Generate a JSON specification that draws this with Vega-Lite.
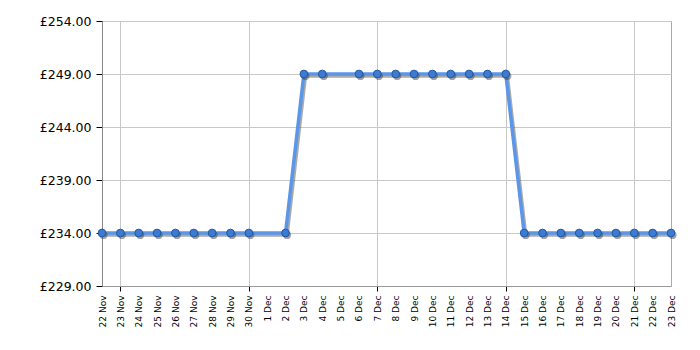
{
  "$schema": "https://vega.github.io/schema/vega-lite/v6.json",
  "width": 569,
  "height": 265,
  "autosize": {"type": "none"},
  "padding": {"left": 102, "top": 21, "right": 29, "bottom": 64},
  "background": "white",
  "data": {
    "values": [
      {"date": "2025-11-22T00:00:00", "price": 234},
      {"date": "2025-11-23T00:00:00", "price": 234},
      {"date": "2025-11-24T00:00:00", "price": 234},
      {"date": "2025-11-25T00:00:00", "price": 234},
      {"date": "2025-11-26T00:00:00", "price": 234},
      {"date": "2025-11-27T00:00:00", "price": 234},
      {"date": "2025-11-28T00:00:00", "price": 234},
      {"date": "2025-11-29T00:00:00", "price": 234},
      {"date": "2025-11-30T00:00:00", "price": 234},
      {"date": "2025-12-02T00:00:00", "price": 234},
      {"date": "2025-12-03T00:00:00", "price": 249},
      {"date": "2025-12-04T00:00:00", "price": 249},
      {"date": "2025-12-06T00:00:00", "price": 249},
      {"date": "2025-12-07T00:00:00", "price": 249},
      {"date": "2025-12-08T00:00:00", "price": 249},
      {"date": "2025-12-09T00:00:00", "price": 249},
      {"date": "2025-12-10T00:00:00", "price": 249},
      {"date": "2025-12-11T00:00:00", "price": 249},
      {"date": "2025-12-12T00:00:00", "price": 249},
      {"date": "2025-12-13T00:00:00", "price": 249},
      {"date": "2025-12-14T00:00:00", "price": 249},
      {"date": "2025-12-15T00:00:00", "price": 234},
      {"date": "2025-12-16T00:00:00", "price": 234},
      {"date": "2025-12-17T00:00:00", "price": 234},
      {"date": "2025-12-18T00:00:00", "price": 234},
      {"date": "2025-12-19T00:00:00", "price": 234},
      {"date": "2025-12-20T00:00:00", "price": 234},
      {"date": "2025-12-21T00:00:00", "price": 234},
      {"date": "2025-12-22T00:00:00", "price": 234},
      {"date": "2025-12-23T00:00:00", "price": 234}
    ]
  },
  "encoding": {
    "x": {
      "field": "date",
      "type": "temporal",
      "scale": {
        "domain": [
          {"year": 2025, "month": "nov", "date": 22},
          {"year": 2025, "month": "dec", "date": 23}
        ],
        "nice": false
      },
      "axis": {
        "title": null,
        "tickCount": {"interval": "day", "step": 1},
        "format": "%-d %b",
        "labelAngle": -90,
        "labelAlign": "right",
        "labelBaseline": "middle",
        "labelOverlap": false,
        "labelFlush": false,
        "labelPadding": 4,
        "labelFontSize": 9,
        "labelColor": "#000000",
        "labelFont": "DejaVu Sans",
        "grid": true,
        "gridColor": "#c8c8c8",
        "gridOpacity": {"condition": {"test": "day(datum.value) == 0", "value": 1}, "value": 0},
        "tickColor": "#000000",
        "tickSize": 5,
        "tickOpacity": {"condition": {"test": "day(datum.value) == 0", "value": 1}, "value": 0},
        "domainColor": "#999999"
      }
    },
    "y": {
      "field": "price",
      "type": "quantitative",
      "scale": {"domain": [229, 254], "nice": false, "zero": false},
      "axis": {
        "title": null,
        "values": [229, 234, 239, 244, 249, 254],
        "labelExpr": "'£' + format(datum.value, '.2f')",
        "labelFontSize": 12.5,
        "labelColor": "#000000",
        "labelFont": "DejaVu Sans",
        "labelPadding": 5,
        "tickSize": 6,
        "tickColor": "#000000",
        "gridColor": "#c8c8c8",
        "domainColor": "#888888"
      }
    }
  },
  "layer": [
    {
      "mark": {"type": "line", "color": "#555555", "opacity": 0.5, "strokeWidth": 3.5, "xOffset": 1.5, "yOffset": 2}
    },
    {
      "mark": {"type": "line", "color": "#5b96e8", "strokeWidth": 3.5}
    },
    {
      "mark": {"type": "point", "shape": "circle", "filled": true, "color": "#444444", "opacity": 0.5, "size": 68, "xOffset": 1.5, "yOffset": 2}
    },
    {
      "mark": {"type": "point", "shape": "circle", "filled": true, "fill": "#3b7bd4", "stroke": "#24579e", "strokeWidth": 1, "opacity": 1, "size": 60}
    }
  ],
  "config": {
    "view": {"stroke": "#aaaaaa"},
    "font": "DejaVu Sans"
  }
}
